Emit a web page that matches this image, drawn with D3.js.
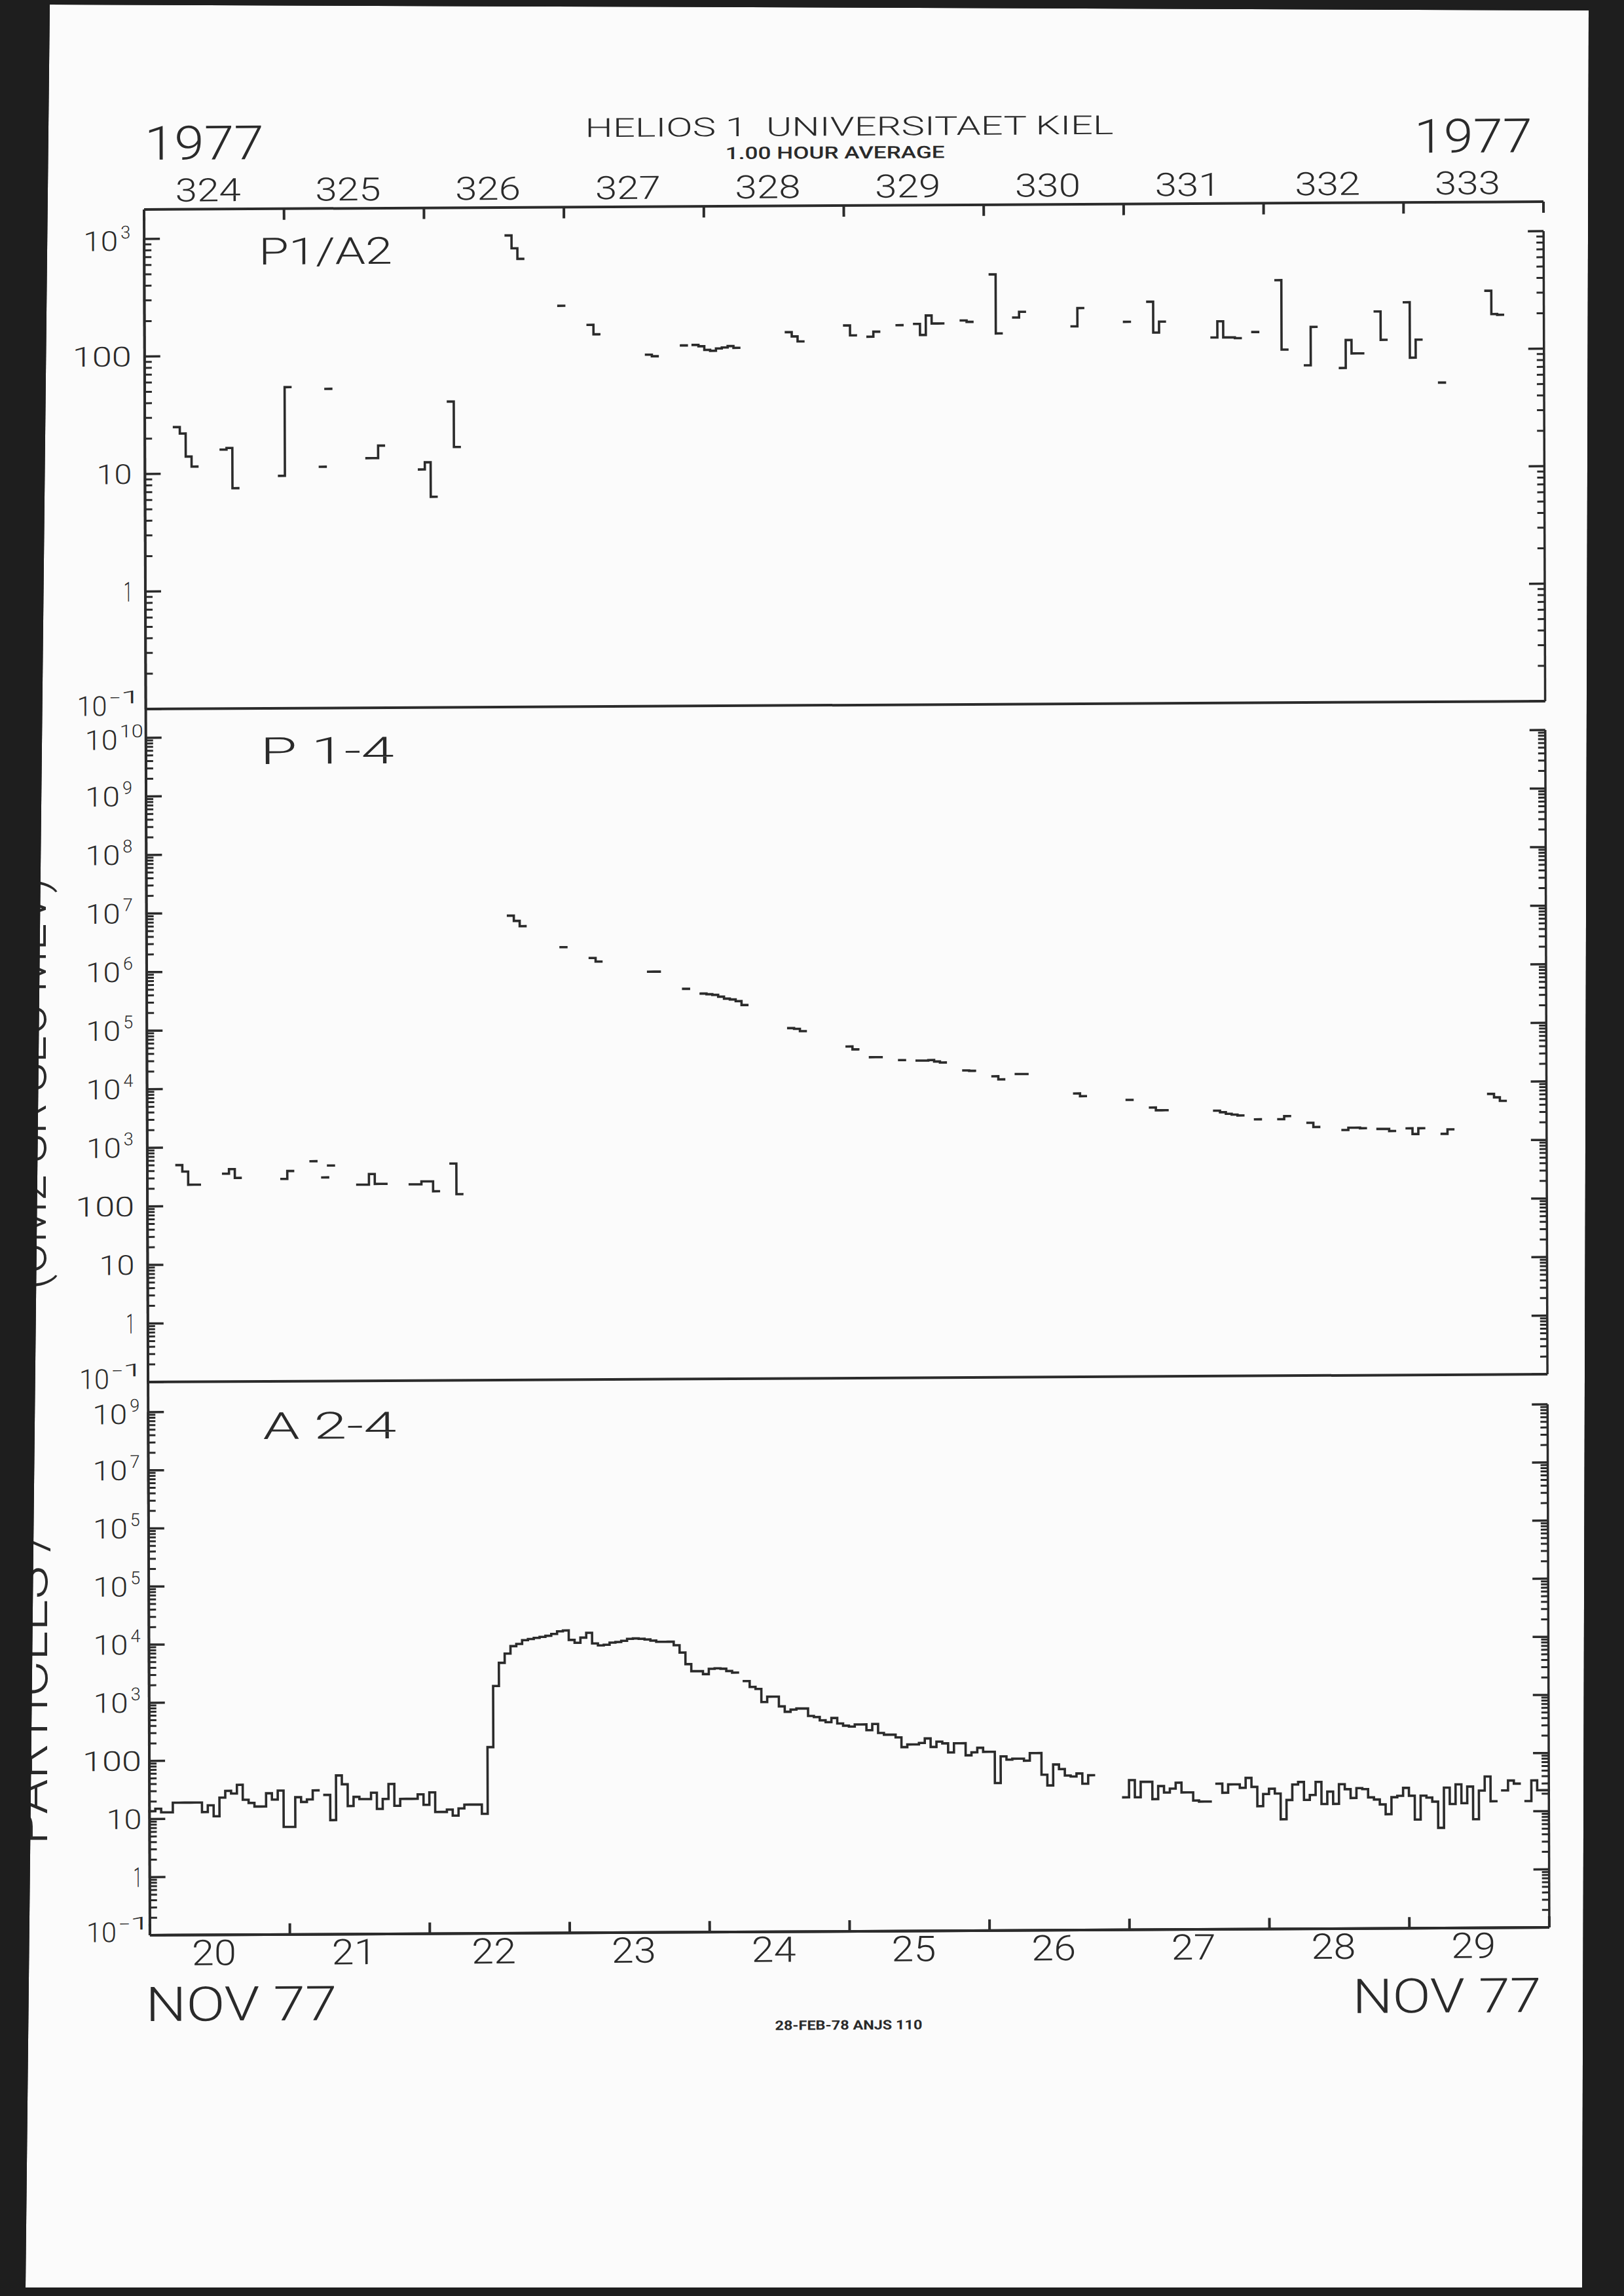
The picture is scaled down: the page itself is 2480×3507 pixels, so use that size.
<!DOCTYPE html>
<html><head><meta charset="utf-8">
<script src="https://cdn.jsdelivr.net/npm/d3@7"></script>
<style>
html,body{margin:0;padding:0;background:#1e1e1e;}
svg{display:block}
text{font-family:Roboto,"DejaVu Sans",sans-serif;font-weight:300;fill:#2a2a2a;white-space:pre}
</style>
</head><body>
<svg id="chart" width="2480" height="3507"></svg>
<script>
// ---------------- DATA ----------------
const doyLabels = ["324","325","326","327","328","329","330","331","332","333"];
const dayLabels = ["20","21","22","23","24","25","26","27","28","29"];
const hoursPerDay = 24;
const nDays = 10;

// P1/A2 : hourly segments (start hour, values)
const p1a2Start = [5,13,23,30,31,38,47,52,62,71,76,86,92,94,110,120,124,129,132,140,145,149,159,168,172,183,190,194,199,205,211,216,222,230];
const p1a2Runs = [
 [25,22,14,11.5],[16,16.5,7.5],[9.5,54],[11.3],[52],[13.3,13.3,17],[10.6,12.2,6.2],[40,16.4],
 [1030,800,650],[258],[177,147],[98,95],[117],[118,115,107,105,110,112,115,111],[150,138,125],
 [170,140],[136,150],[170],[174,140,205,175,175],[185,180],[455,143],[195,218],[163,233],[177],
 [262,143,177],[129,177,129,129,127],[143],[394,101],[74,157],[70,121,93,93],[211,121],
 [252,85,121],[52],[313,198,195]
];

// P 1-4 : hourly segments
const p14Start = [5,13,23,28,30,31,36,45,52,62,71,76,86,92,95,110,120,124,129,132,140,145,149,159,168,172,183,190,194,199,205,211,216,222,230];
const p14Runs = [
 [503,389,232,232],[355,424,300],[285,389],[569],[300],[478],[224,224,339,230,230],
 [224,224,251,251,170],[503,151],[8.5e6,6.9e6,5.6e6],[2.43e6],[1.58e6,1.37e6],[9.1e5,9.1e5],
 [4.6e5],[3.8e5,3.7e5,3.6e5,3.35e5,3.1e5,3.0e5,2.8e5,2.4e5],[9.6e4,9.3e4,8.5e4],[4.6e4,4.1e4],
 [3.0e4,3.0e4],[2.66e4],[2.6e4,2.6e4,2.65e4,2.5e4,2.4e4],[1.75e4,1.72e4],[1.38e4,1.22e4],
 [1.5e4,1.5e4],[6.9e3,6.2e3],[5.3e3],[3.9e3,3.5e3,3.5e3],[3.4e3,3.2e3,3.0e3,2.9e3,2.8e3],
 [2.4e3],[2.4e3,2.7e3],[2.07e3,1.75e3],[1.55e3,1.69e3,1.69e3,1.65e3],[1.6e3,1.6e3,1.47e3],
 [1.63e3,1.3e3,1.63e3],[1.3e3,1.55e3],[6.2e3,5.4e3,4.7e3]
];

// A 2-4 : 240 hourly values (null = no data)
const a24Values = [
 13.6,15,13,13,19,19,19,19,19,13,
 17,11,23,30,27,38,21,18.5,16,16,
 27,21,30,7.1,7.1,23,19,21,30,null,
 25,9.2,54,38,16,23,21,21,27,14.2,
 21,38,16,21,21,21,25,16.5,27,12.4,
 12.4,13.6,10.7,14.2,16.5,16.5,16.5,11.4,160,1800,
 4500,6500,8700,9500,11000,11500,12000,12500,13000,14000,
 15500,16000,11000,9800,12000,14500,9500,8800,9000,9800,
 10000,10500,11300,11500,11300,11000,10500,10000,10000,10000,
 8700,6500,4100,3100,3100,2750,3400,3450,3400,3100,
 2900,null,2070,1640,1510,900,1110,1110,755,608,
 661,690,690,512,490,430,400,470,378,346,
 333,362,362,288,368,257,240,240,215,146,
 162,162,172,205,146,180,168,117,168,168,
 104,117,140,119,119,34.5,99,87,90,90,
 83,112,112,47.5,31,71,59,45.7,44,49.5,
 33,46,null,null,null,null,null,19,37.6,19,
 35,35,17.6,29.5,22.8,26.6,33.6,22.8,22.8,16.5,
 15.8,15.8,null,32,22.3,31,31,27,40,28,
 13,21,25.9,21.4,7.7,16.5,30.5,33.6,16.5,20,
 33.6,14,22.8,14,30.5,25,17.6,26,25,18,
 16.5,13.6,9.2,18,19,26,19,7.4,19,17.6,
 15,5.3,26,13.6,29.5,14,27,7.4,23,40,
 15,null,23,34,30,null,15,34,23,23
];

// y tick labels (decade exponent -> printed base / superscript)
const p1Decades = [3,2,1,0,-1];
const p1TickBase = ["10","100","10","1","10"];
const p1TickExp  = ["3","","","","-1"];
const p2Decades = [10,9,8,7,6,5,4,3,2,1,0,-1];
const p2TickBase = ["10","10","10","10","10","10","10","10","100","10","1","10"];
const p2TickExp  = ["10","9","8","7","6","5","4","3","","","","-1"];
const p3Decades = [8,7,6,5,4,3,2,1,0,-1];
const p3TickBase = ["10","10","10","10","10","10","100","10","1","10"];
const p3TickExp  = ["9","7","5","5","4","3","","","","-1"];

const panelNames = ["P1/A2","P 1-4","A 2-4"];

// ---------------- DRAWING ----------------
const W = 2480, H = 3507;
const ink = "#2b2b2b";
const svg = d3.select("#chart");

svg.append("rect").attr("width", W).attr("height", H).attr("fill", "#1e1e1e");
const paperPts = [[76,7],[2426,16],[2416,3494],[39,3494]];
svg.append("polygon").attr("points", paperPts.map(p => p.join(",")).join(" ")).attr("fill", "#fbfbfb");

// slight skew of the scanned sheet
const g = svg.append("g").attr("transform", "matrix(1,-0.0056,0.0034,1,-1.09,1.23)");

const X0 = 220, X1 = 2357;
const x = d3.scaleLinear().domain([0, nDays * hoursPerDay]).range([X0, X1]);

const panels = [
  {y: d3.scaleLog().domain([0.1, 1e3]).range([1083, 365]), top: 320, bottom: 1083,
   decades: p1Decades, base: p1TickBase, exp: p1TickExp, nameY: 405, exOff: 0},
  {y: d3.scaleLog().domain([0.1, 1e10]).range([2111, 1127]), top: 1083, bottom: 2111,
   decades: p2Decades, base: p2TickBase, exp: p2TickExp, nameY: 1168, exOff: 0},
  {y: d3.scaleLog().domain([0.1, 1e8]).range([2956, 2157]), top: 2111, bottom: 2956,
   decades: p3Decades, base: p3TickBase, exp: p3TickExp, nameY: 2199, exOff: 8}
];

function txt(parent, s, xx, yy, size, len, weight) {
  const t = parent.append("text").attr("x", xx).attr("y", yy)
    .attr("font-size", size).text(s);
  if (len) t.attr("textLength", len).attr("lengthAdjust", "spacingAndGlyphs");
  if (weight) t.style("font-weight", weight);
  return t;
}
function styleAxis(sel, w) {
  sel.selectAll("path,line").attr("stroke", ink).attr("stroke-width", w).attr("fill", "none");
  sel.selectAll("text").remove();
}

// Top frame with day-of-year ticks
const dayTicks = d3.range(0, nDays * hoursPerDay + 1, hoursPerDay);
const topAx = g.append("g").attr("transform", `translate(0,320)`)
  .call(d3.axisTop(x).tickValues(dayTicks).tickSize(-17).tickSizeOuter(0).offset(0).tickFormat(""));
styleAxis(topAx, 4);

// bottom axis (panel 3)
const botAx = g.append("g").attr("transform", `translate(0,2956)`)
  .call(d3.axisBottom(x).tickValues(dayTicks).tickSize(-17).tickSizeOuter(0).offset(0).tickFormat(""));
styleAxis(botAx, 4);

// continuous left border
g.append("line").attr("x1", x(0)).attr("x2", x(0)).attr("y1", 320).attr("y2", 2956)
  .attr("stroke", ink).attr("stroke-width", 4);

panels.forEach((p, i) => {
  g.append("line").attr("x1", x(0)).attr("x2", x(240)).attr("y1", p.bottom).attr("y2", p.bottom)
    .attr("stroke", ink).attr("stroke-width", 4);
  const [dmin, dmax] = p.y.domain();
  const eMin = Math.round(Math.log10(dmin)), eMax = Math.round(Math.log10(dmax));
  const majors = [], minors = [];
  for (let e = eMin; e <= eMax; e++) {
    majors.push(Math.pow(10, e));
    if (e < eMax) for (let m = 2; m <= 9; m++) minors.push(m * Math.pow(10, e));
  }
  const la = g.append("g").attr("transform", `translate(${x(0)},0)`)
    .call(d3.axisLeft(p.y).tickValues(majors).tickSize(-24).tickSizeOuter(0).offset(0).tickFormat(""));
  styleAxis(la, 3.5);
  const lm = g.append("g").attr("transform", `translate(${x(0)},0)`)
    .call(d3.axisLeft(p.y).tickValues(minors).tickSize(-11).tickSizeOuter(0).offset(0).tickFormat(""));
  lm.select(".domain").remove();
  styleAxis(lm, 3);
  const ra = g.append("g").attr("transform", `translate(${x(240)},0)`)
    .call(d3.axisRight(p.y).tickValues(majors).tickSize(-24).tickSizeOuter(0).offset(0).tickFormat(""));
  styleAxis(ra, 3.5);
  const rm = g.append("g").attr("transform", `translate(${x(240)},0)`)
    .call(d3.axisRight(p.y).tickValues(minors).tickSize(-11).tickSizeOuter(0).offset(0).tickFormat(""));
  rm.select(".domain").remove();
  styleAxis(rm, 3);

  // tick labels
  const A = x(0) + p.exOff;
  const FS = 42, ES = 27;
  p.decades.forEach((d, k) => {
    const ty = p.y(Math.pow(10, d));
    const b = p.base[k], e = p.exp[k];
    let off = 15;
    if (k === 0) off = 18;
    if (k === p.decades.length - 1) off = 10;
    if (!e) {
      const w = {"100": 90, "10": 54, "1": 13}[b];
      txt(g, b, A - 20 - w, ty + off, FS, w);
    } else if (e === "-1") {
      txt(g, b, A - 105, ty + off, FS, 46);
      txt(g, e, A - 55, ty + off - 19, ES, 48);
    } else if (e.length === 2) {
      txt(g, b, A - 93, ty + off, FS, 50);
      txt(g, e, A - 40, ty + off - 19, ES, 36);
    } else {
      txt(g, b, A - 93, ty + off, FS, 53);
      txt(g, e, A - 36, ty + off - 19, ES, 15);
    }
  });
  txt(g, panelNames[i], 395, p.nameY, 57, 204);
});

// ---- data paths ----
const lineGen = (ys) => d3.line().defined(d => d !== null).x(d => x(d[0])).y(d => ys(d[1]));
function runsToPoints(starts, runs) {
  const pts = [];
  runs.forEach((r, i) => {
    r.forEach((v, k) => { pts.push([starts[i] + k, v]); pts.push([starts[i] + k + 1, v]); });
    pts.push(null);
  });
  return pts;
}
function seriesToPoints(vals) {
  const pts = [];
  vals.forEach((v, h) => {
    if (v === null) { pts.push(null); return; }
    pts.push([h, v]); pts.push([h + 1, v]);
  });
  return pts;
}
const dataStyle = s => s.attr("fill", "none").attr("stroke", ink).attr("stroke-width", 3.6)
  .attr("stroke-linejoin", "miter").attr("stroke-linecap", "square");

g.append("path").datum(runsToPoints(p1a2Start, p1a2Runs)).attr("d", lineGen(panels[0].y)).call(dataStyle);
g.append("path").datum(runsToPoints(p14Start, p14Runs)).attr("d", lineGen(panels[1].y)).call(dataStyle);
g.append("path").datum(seriesToPoints(a24Values)).attr("d", lineGen(panels[2].y)).call(dataStyle);

// ---- header / footer text ----
txt(g, "1977", 221, 244, 72, 182);
txt(g, "1977", 2160, 244, 72, 180);
txt(g, "HELIOS 1  UNIVERSITAET KIEL", 894, 213, 40, 807);
txt(g, "1.00 HOUR AVERAGE", 1108, 248, 26, 335, 500);
doyLabels.forEach((s, i) => {
  const cx = x(i * hoursPerDay + 12) - 9;
  txt(g, s, cx - 50, 308, 49, 100);
});
dayLabels.forEach((s, i) => {
  const cx = x(i * hoursPerDay + 12) - 9;
  txt(g, s, cx - 34, 3002, 54, 68);
});
txt(g, "NOV 77", 213, 3087, 73, 292);
txt(g, "NOV 77", 2056, 3085, 73, 288);
txt(g, "28-FEB-78 ANJS 110", 1174, 3106, 20, 225, 700);

// ---- side label (mostly hidden by scan border) ----
svg.append("text").attr("transform", "translate(72,2818) rotate(-90)")
  .attr("font-size", 76).attr("textLength", 481).attr("lengthAdjust", "spacingAndGlyphs")
  .text("PARTICLES /");
svg.append("text").attr("transform", "translate(70,1970) rotate(-90)")
  .attr("font-size", 76).attr("textLength", 630).attr("lengthAdjust", "spacingAndGlyphs")
  .text("(CM2 SR SEC MEV)");

// ---- dark scan border on top ----
const pp = paperPts;
svg.append("path")
  .attr("d", `M0,0H${W}V${H}H0Z M${pp[0]}L${pp[3]}L${pp[2]}L${pp[1]}Z`)
  .attr("fill", "#1e1e1e").attr("fill-rule", "evenodd");
</script>
</body></html>
